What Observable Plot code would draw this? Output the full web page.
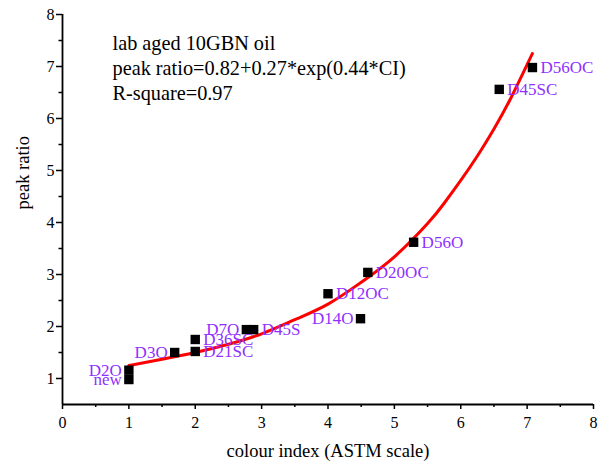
<!DOCTYPE html>
<html>
<head>
<meta charset="utf-8">
<script src="https://cdn.jsdelivr.net/npm/d3@7"></script>
<script src="https://cdn.jsdelivr.net/npm/@observablehq/plot@0.6"></script>
<style>
  html, body { margin: 0; padding: 0; background: #fff; }
  #chart { width: 603px; height: 465px; }
  #chart svg, #chart svg text { font-family: "Liberation Serif", "Times New Roman", serif !important; }
</style>
</head>
<body>
<div id="chart"></div>
<script>
// Sample names, colour index (x) and peak ratio (y)
const sampleNames = ["D2O", "new", "D3O", "D36SC", "D21SC", "D7O", "D45S", "D12OC", "D14O", "D20OC", "D56O", "D45SC", "D56OC"];
const colourIndex = [1.0, 1.0, 1.69, 2.0, 2.0, 2.77, 2.88, 4.0, 4.49, 4.6, 5.29, 6.58, 7.08];
const peakRatio   = [1.16, 0.98, 1.5, 1.75, 1.52, 1.94, 1.94, 2.63, 2.15, 3.04, 3.62, 6.56, 6.98];
const leftLabelled = ["D2O", "new", "D3O", "D7O", "D14O"];

// Fitted curve
const fitX = [1.0, 1.5, 2.0, 2.5, 3.0, 3.5, 4.0, 4.5, 5.0, 5.5, 5.75, 6.0, 6.25, 6.5, 6.75, 7.08];
const fitY = [1.25, 1.37, 1.5, 1.66, 1.86, 2.13, 2.43, 2.85, 3.34, 3.98, 4.37, 4.81, 5.28, 5.8, 6.38, 7.25];

const annotationLines = ["lab aged 10GBN oil", "peak ratio=0.82+0.27*exp(0.44*CI)", "R-square=0.97"];
const xTicks = [0, 1, 2, 3, 4, 5, 6, 7, 8];
const xMinorTicks = [0.5, 1.5, 2.5, 3.5, 4.5, 5.5, 6.5, 7.5];
const yTicks = [1, 2, 3, 4, 5, 6, 7, 8];
const yMinorTicks = [1.5, 2.5, 3.5, 4.5, 5.5, 6.5, 7.5];
const xLabel = "colour index (ASTM scale)";
const yLabel = "peak ratio";

const points = sampleNames.map((n, i) => ({name: n, x: colourIndex[i], y: peakRatio[i], left: leftLabelled.includes(n)}));
const curve = fitX.map((x, i) => ({x, y: fitY[i]}));

const purple = "#9030ff";
const font = "Liberation Serif";

const chart = Plot.plot({
  width: 603,
  height: 465,
  marginLeft: 62,
  marginRight: 10,
  marginTop: 14,
  marginBottom: 61,
  x: {domain: [0, 8]},
  y: {domain: [0.5, 8]},
  style: {fontFamily: font, fontSize: "16px", color: "black", background: "white"},
  marks: [
    Plot.axisX({ticks: xTicks, tickSize: 5, tickPadding: 7, label: null, fontSize: 16, fontFamily: font, strokeWidth: 1.5}),
    Plot.axisX({ticks: xMinorTicks, tickSize: 3, text: null, label: null, strokeWidth: 1.5}),
    Plot.axisY({ticks: yTicks, tickSize: 6, tickPadding: 2, label: null, fontSize: 16, fontFamily: font, strokeWidth: 1.5}),
    Plot.axisY({ticks: yMinorTicks, tickSize: 3.5, text: null, label: null, strokeWidth: 1.5}),
    Plot.ruleY([0.5], {stroke: "black", strokeWidth: 1.8}),
    Plot.ruleX([0], {stroke: "black", strokeWidth: 1.8}),
    Plot.text([xLabel], {frameAnchor: "bottom", dy: 52, fontSize: 18.5, fontFamily: font, fill: "black"}),
    Plot.text([yLabel], {frameAnchor: "left", dx: -39, rotate: -90, fontSize: 18.5, fontFamily: font, fill: "black"}),
    Plot.text([annotationLines.join("\n")], {frameAnchor: "top-left", dx: 50, dy: 18, textAnchor: "start", lineAnchor: "top", lineHeight: 1.22, fontSize: 20.3, fontFamily: font, fill: "black"}),
    Plot.line(curve, {x: "x", y: "y", stroke: "#ff0000", strokeWidth: 3, curve: "natural"}),
    Plot.dot(points, {x: "x", y: "y", symbol: "square", fill: "black", stroke: "none", r: 5.3}),
    Plot.text(points.filter(d => !d.left), {x: "x", y: "y", text: "name", textAnchor: "start", dx: 8, fontSize: 17, fontFamily: font, fill: purple}),
    Plot.text(points.filter(d => d.left), {x: "x", y: "y", text: "name", textAnchor: "end", dx: -7, fontSize: 17, fontFamily: font, fill: purple})
  ]
});
document.getElementById("chart").appendChild(chart);
</script>
</body>
</html>
